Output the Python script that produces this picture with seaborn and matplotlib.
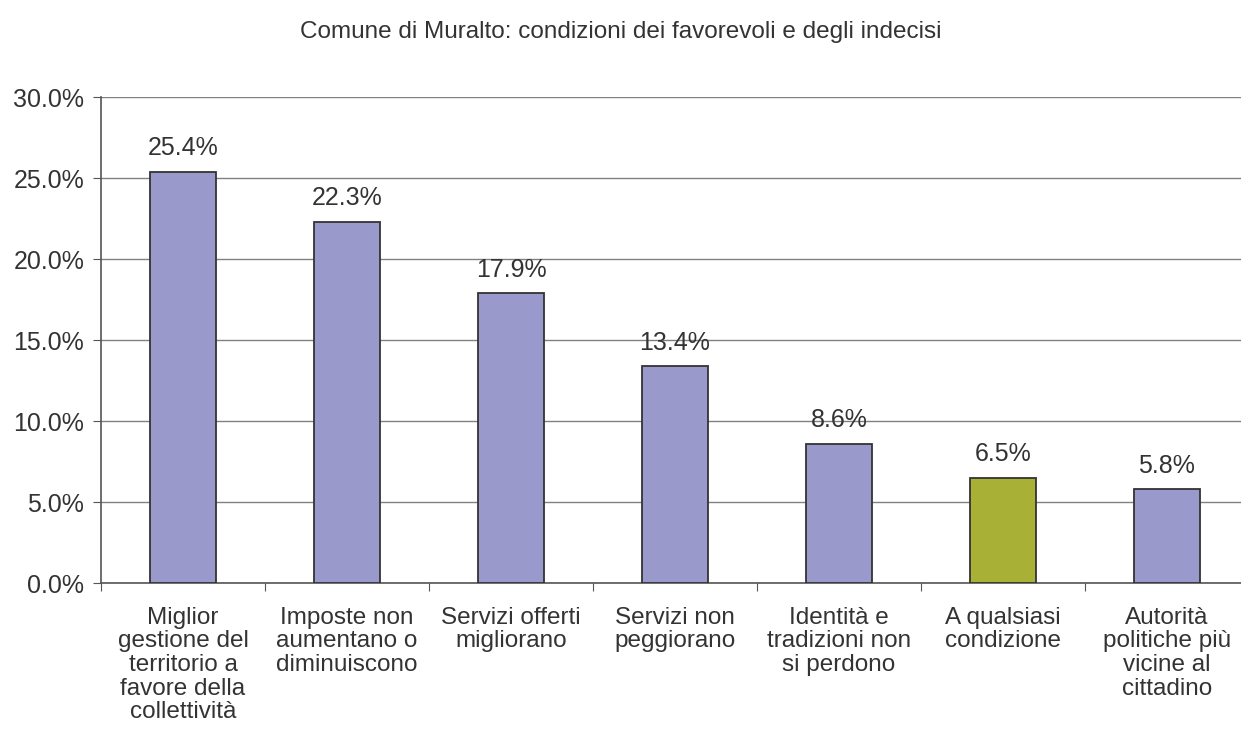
import matplotlib
matplotlib.use("Agg")
import matplotlib.pyplot as plt
import seaborn as sns
import pandas as pd

categories = [
    "Miglior\ngestione del\nterritorio a\nfavore della\ncollettività",
    "Imposte non\naumentano o\ndiminuiscono",
    "Servizi offerti\nmigliorano",
    "Servizi non\npeggiorano",
    "Identità e\ntradizioni non\nsi perdono",
    "A qualsiasi\ncondizione",
    "Autorità\npolitiche più\nvicine al\ncittadino",
]
values = [25.4, 22.3, 17.9, 13.4, 8.6, 6.5, 5.8]
bar_colors = ["#9999CC", "#9999CC", "#9999CC", "#9999CC", "#9999CC", "#A8B036", "#9999CC"]
yticks = [0, 5, 10, 15, 20, 25, 30]

sns.set_style("white")
plt.rcParams["font.family"] = ["Liberation Sans", "DejaVu Sans"]

df = pd.DataFrame({"cat": categories, "val": values})

fig = plt.figure(figsize=(12.41, 7.51), dpi=100)
ax = fig.add_axes([0.0814, 0.2237, 0.925, 0.6471])

sns.barplot(data=df, x="cat", y="val", hue="cat", palette=bar_colors, legend=False,
            width=0.4, saturation=1, edgecolor="#333333", linewidth=1.3, ax=ax, zorder=3)

for i, v in enumerate(values):
    ax.text(i, v + 0.7, f"{v:.1f}%", ha="center", va="bottom", fontsize=18, color="#333333")

ax.set_ylim(0, 30)
ax.set_xlim(-0.5, 6.5)
ax.set_yticks(yticks)
ax.set_yticklabels([f"{t:.1f}%" for t in yticks], fontsize=18, color="#333333")
ax.yaxis.grid(True, color="#808080", linewidth=1.0, zorder=0)
ax.set_axisbelow(True)

ax.set_xticks([i + 0.5 for i in range(-1, 7)], minor=False)
ax.set_xticklabels([])
ax.set_xticks(range(7), minor=True)
ax.set_xticklabels(categories, minor=True, fontsize=17.5, color="#333333", linespacing=1.1, va="top")
ax.tick_params(axis="x", which="minor", length=0, pad=17)
ax.tick_params(axis="x", which="major", length=6, color="#555555", direction="out", bottom=True)
ax.tick_params(axis="y", length=6, color="#555555", direction="out", left=True, pad=6)

ax.set_xlabel("")
ax.set_ylabel("")
for s in ["top", "right"]:
    ax.spines[s].set_visible(False)
for s in ["left", "bottom"]:
    ax.spines[s].set_color("#555555")
    ax.spines[s].set_linewidth(1.2)

fig.text(0.5, 0.958, "Comune di Muralto: condizioni dei favorevoli e degli indecisi",
         ha="center", va="center", fontsize=17.5, color="#333333")

fig.savefig("out.png", dpi=100)
